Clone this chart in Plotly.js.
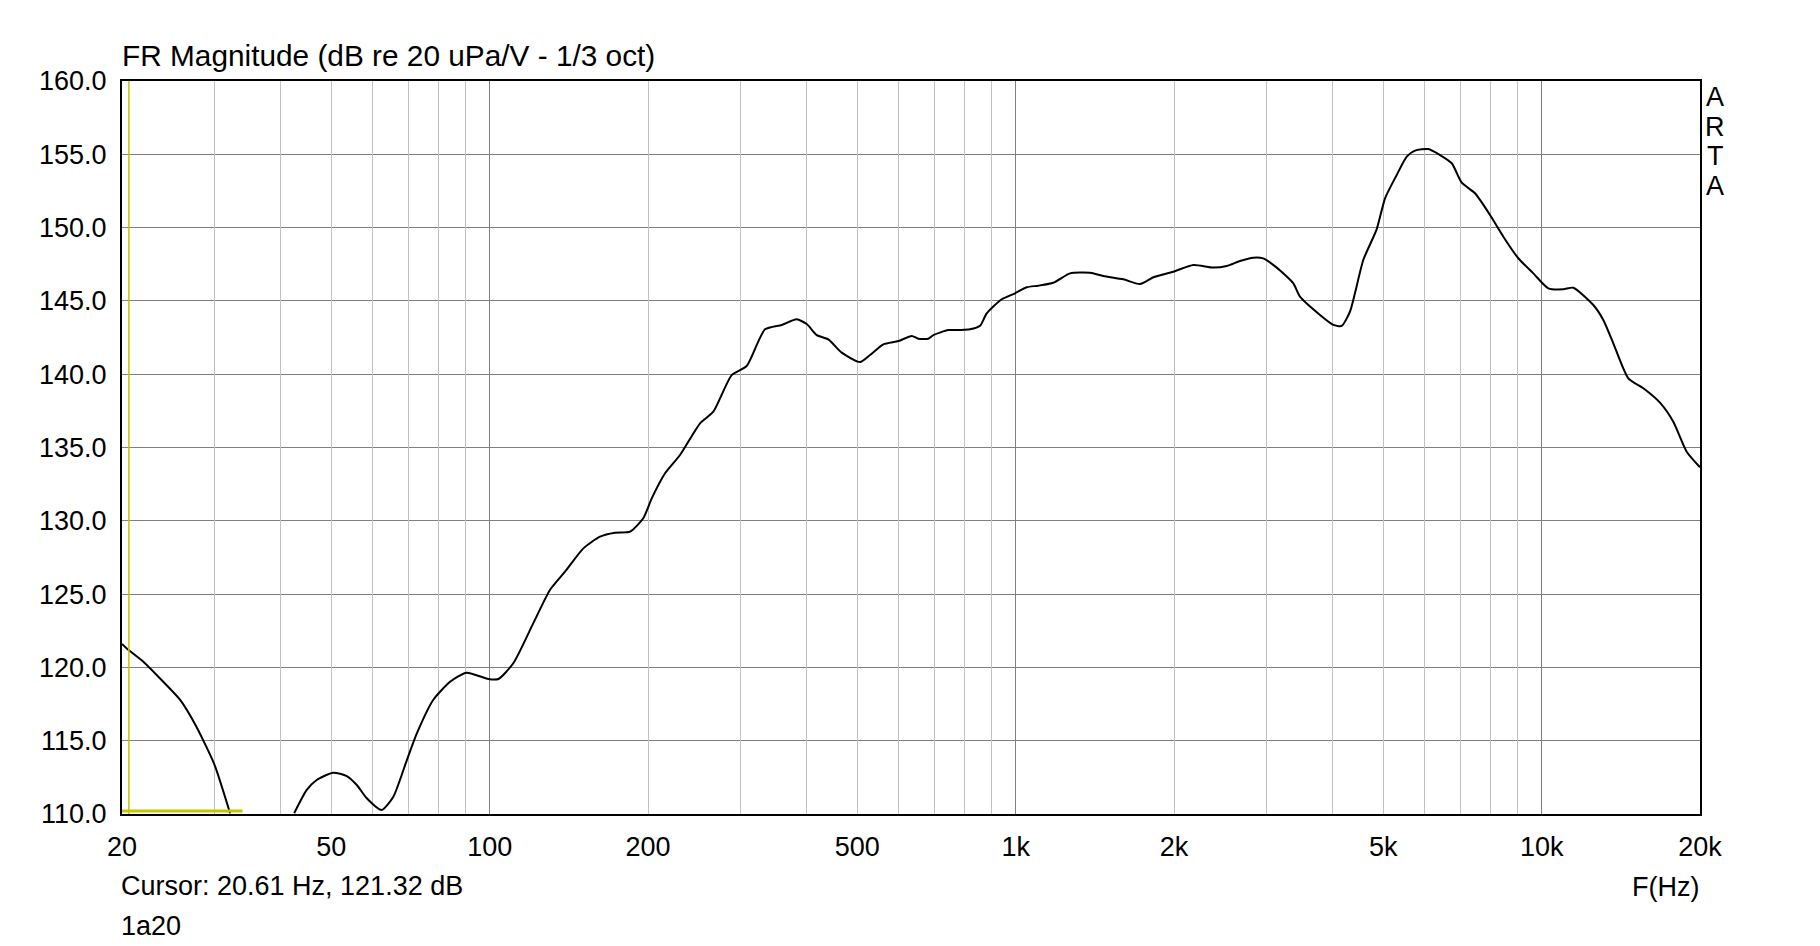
<!DOCTYPE html>
<html>
<head>
<meta charset="utf-8">
<script src="https://cdn.plot.ly/plotly-3.0.1.min.js"></script>
<style>
  html, body { margin: 0; padding: 0; background: #ffffff; }
  #chart { width: 1820px; height: 946px; }
</style>
</head>
<body>
<div id="chart"></div>
<script>
// ---- data ----
const chartTitle = "FR Magnitude (dB re 20 uPa/V - 1/3 oct)";
const xAxisLabel = "F(Hz)";
const cursorText = "Cursor: 20.61 Hz, 121.32 dB";
const fileLabel = "1a20";
const brandLetters = ["A", "R", "T", "A"];

const freqHz = [
  20, 20.4, 21.96, 23.96, 25.8, 27.7, 30.0, 32.1,
  36.5,
  42.5, 44.9, 46.9, 50.4, 53.5, 55.9, 58.4, 62.3, 65.6, 69.6, 72.7, 78.1, 84.1, 90.4, 99.4, 103.9, 110.9,
  121, 130.2, 139.1, 150.7, 162.1, 173.1, 184.9, 195.9, 203.3, 215.5, 230.1, 251.2, 266.2, 288.5, 308,
  333.8, 359.2, 383.5, 400.7, 418.6, 440.4, 467, 506, 528.7, 560.4, 598.4, 634.4, 653, 682.2, 697.4,
  744.6, 783.8, 818.8, 855.6, 881, 940.6, 997, 1049, 1104, 1179, 1269, 1385, 1468, 1602, 1723, 1827,
  1994, 2177, 2376, 2520, 2670, 2830, 2956, 3136, 3372, 3472, 3790, 4018, 4167, 4320, 4416, 4580,
  4858, 5038, 5302, 5540, 5744, 6088, 6408, 6746, 7048, 7470, 7978, 8456, 9028, 9642, 10294, 10994,
  11486, 12538, 13098, 13684, 14614, 15606, 16786, 17794, 18868, 20000
];
const magDb = [
  121.6, 121.3, 120.39, 119.02, 117.78, 115.95, 113.34, 110.05,
  null,
  110.05, 111.64, 112.32, 112.82, 112.59, 111.98, 111.07, 110.27, 111.18, 113.68, 115.5, 117.78, 119.02, 119.64, 119.21, 119.21, 120.28,
  123.0, 125.28, 126.53, 128.12, 128.92, 129.19, 129.26, 130.17, 131.53, 133.24, 134.49, 136.65, 137.44, 139.94, 140.56,
  143.06, 143.36, 143.74, 143.42, 142.67, 142.38, 141.47, 140.83, 141.31, 142.04, 142.26, 142.61, 142.42, 142.42, 142.67,
  143.01, 143.02, 143.06, 143.3, 144.15, 145.11, 145.52, 145.93, 146.04, 146.24, 146.88, 146.92, 146.7, 146.47, 146.15, 146.61,
  146.99, 147.45, 147.27, 147.38, 147.72, 147.95, 147.9, 147.27, 146.2, 145.29, 144.04, 143.36, 143.29, 144.26, 145.52, 147.79,
  149.9, 152.0, 153.59, 154.84, 155.25, 155.36, 154.95, 154.39, 153.06, 152.34, 150.86, 149.38, 147.91, 146.88, 145.86, 145.79,
  145.9, 144.72, 143.7, 142.11, 139.72, 139.04, 138.06, 136.76, 134.71, 133.65
];

const xTickVals = [20, 50, 100, 200, 500, 1000, 2000, 5000, 10000, 20000];
const xTickText = ["20", "50", "100", "200", "500", "1k", "2k", "5k", "10k", "20k"];
const minorGridHz = [30, 40, 50, 60, 70, 80, 90,
  200, 300, 400, 500, 600, 700, 800, 900,
  2000, 3000, 4000, 5000, 6000, 7000, 8000, 9000];
const decadeGridHz = [100, 1000, 10000];
const freqRangeHz = [20, 20000];
const dbRange = [110, 160];
const dbStep = 5;

const cursorHz = 20.61;
const cursorMarkHz = [20, 33.9];
const cursorMarkDb = 110.2;

// ---- chart ----
const FONT = "Liberation Sans, Arial, sans-serif";
const logRange = freqRangeHz.map(v => Math.log10(v));

const traces = [
  {
    x: [cursorHz, cursorHz], y: dbRange, xaxis: "x2", yaxis: "y",
    mode: "lines", line: { color: "#c8c400", width: 1.5 }, hoverinfo: "skip", showlegend: false
  },
  {
    x: cursorMarkHz, y: [cursorMarkDb, cursorMarkDb], xaxis: "x3", yaxis: "y",
    mode: "lines", line: { color: "#c8c400", width: 3 }, hoverinfo: "skip", showlegend: false
  },
  {
    x: freqHz, y: magDb, xaxis: "x", yaxis: "y",
    mode: "lines", line: { color: "#000000", width: 2, shape: "spline", smoothing: 0.6 },
    connectgaps: false, showlegend: false
  }
];

const annotations = [
  { text: cursorText, xref: "paper", yref: "paper", x: 0, y: -0.098, xanchor: "left", yanchor: "middle",
    showarrow: false, font: { family: FONT, size: 27, color: "#000" }, xshift: -3 },
  { text: fileLabel, xref: "paper", yref: "paper", x: 0, y: -0.153, xanchor: "left", yanchor: "middle",
    showarrow: false, font: { family: FONT, size: 27, color: "#000" }, xshift: -3 },
  { text: xAxisLabel, xref: "paper", yref: "paper", x: 1, y: -0.099, xanchor: "right", yanchor: "middle",
    showarrow: false, font: { family: FONT, size: 27, color: "#000" }, xshift: 1 }
];
brandLetters.forEach((ch, i) => {
  annotations.push({
    text: ch, xref: "paper", yref: "paper", x: 1, y: 1 - (16 + 29.7 * i) / 733,
    xanchor: "center", yanchor: "middle", xshift: 15, showarrow: false,
    font: { family: FONT, size: 27, color: "#000" }
  });
});

const layout = {
  width: 1820, height: 946,
  margin: { l: 122, r: 120, t: 81, b: 132 },
  paper_bgcolor: "#ffffff", plot_bgcolor: "#ffffff",
  font: { family: FONT, size: 27, color: "#000" },
  title: {
    text: chartTitle, x: 0, xref: "paper", xanchor: "left",
    y: 1 - 56 / 946, yref: "container", yanchor: "middle",
    font: { family: FONT, size: 29.8, color: "#000" }
  },
  xaxis: {
    type: "log", range: logRange, tickmode: "array", tickvals: xTickVals, ticktext: xTickText,
    showgrid: false, zeroline: false, ticks: "", ticklabelstandoff: 8,
    showline: true, mirror: true, linecolor: "#000", linewidth: 2,
    tickfont: { family: FONT, size: 27, color: "#000" }, fixedrange: true
  },
  xaxis2: {
    type: "log", range: logRange, overlaying: "x", anchor: "y", side: "bottom",
    tickmode: "array", tickvals: minorGridHz, showticklabels: false, ticks: "",
    showgrid: true, gridcolor: "#c0c0c0", gridwidth: 1, zeroline: false, showline: false
  },
  xaxis3: {
    type: "log", range: logRange, overlaying: "x", anchor: "y", side: "bottom",
    tickmode: "array", tickvals: decadeGridHz, showticklabels: false, ticks: "",
    showgrid: true, gridcolor: "#808080", gridwidth: 1, zeroline: false, showline: false
  },
  yaxis: {
    range: dbRange, dtick: dbStep, tick0: dbRange[0], tickformat: ".1f",
    showgrid: true, gridcolor: "#808080", gridwidth: 1, zeroline: false, ticks: "",
    ticklabelstandoff: 8,
    showline: true, mirror: true, linecolor: "#000", linewidth: 2,
    tickfont: { family: FONT, size: 27, color: "#000" }, fixedrange: true
  },
  annotations: annotations,
  showlegend: false
};

Plotly.newPlot("chart", traces, layout, { staticPlot: true, displayModeBar: false });
</script>
</body>
</html>
